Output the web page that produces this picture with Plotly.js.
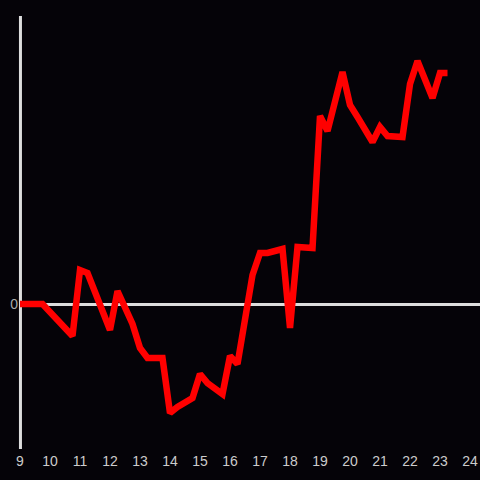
<!DOCTYPE html>
<html><head><meta charset="utf-8">
<script src="https://cdn.plot.ly/plotly-3.0.1.min.js"></script>
<style>html,body{margin:0;padding:0;background:#050308;}</style>
</head><body>
<div id="chart" style="width:480px;height:480px;"></div>
<script>
const hours = [9.0, 9.75, 10.75, 11.0, 11.25, 12.0, 12.25, 12.75, 13.0, 13.25, 13.75, 14.0, 14.25, 14.75, 15.0, 15.25, 15.75, 16.0, 16.25, 16.75, 17.0, 17.25, 17.75, 18.0, 18.25, 18.75, 19.0, 19.25, 19.75, 20.0, 20.25, 20.75, 21.0, 21.25, 21.75, 22.0, 22.25, 22.75, 23.0, 23.25];
const values = [0, 0, -32, 34, 31, -26, 13, -20, -44, -54, -54, -109, -103, -94, -70, -79, -90, -52, -60, 29, 51, 51, 55, -24, 57, 56, 188, 173, 232, 199, 187, 162, 177, 168, 167, 220, 243, 206, 231, 231];
const xTicks = [9,10,11,12,13,14,15,16,17,18,19,20,21,22,23,24];

Plotly.newPlot('chart', [{
  x: hours, y: values, type: 'scatter', mode: 'lines',
  line: {color: '#ff0000', width: 6.5},
  hoverinfo: 'skip'
}], {
  width: 480, height: 480,
  paper_bgcolor: '#050308', plot_bgcolor: '#050308',
  margin: {l: 20, r: 0, t: 16, b: 31},
  showlegend: false,
  font: {family: 'Liberation Sans, Arial, sans-serif', size: 14, color: '#cccccc'},
  xaxis: {range: [9, 24.333], tickvals: xTicks, ticktext: xTicks.map(String),
          showgrid: false, zeroline: false, showline: false, ticks: '',
          ticklabelstandoff: 2,
          tickfont: {color: '#cccccc', size: 14}},
  yaxis: {range: [-145, 288], tickvals: [0], ticktext: ['0'],
          showgrid: false, zeroline: true, zerolinecolor: '#dddddd', zerolinewidth: 3,
          showline: false, ticks: '', ticklabelstandoff: 1,
          tickfont: {color: '#aaaaaa', size: 14}},
  shapes: [{type: 'line', xref: 'paper', yref: 'paper', x0: 0.001, x1: 0.001, y0: 0, y1: 1,
            line: {color: '#dddddd', width: 3}, layer: 'below'}]
}, {displayModeBar: false, staticPlot: true});
</script>
</body></html>
